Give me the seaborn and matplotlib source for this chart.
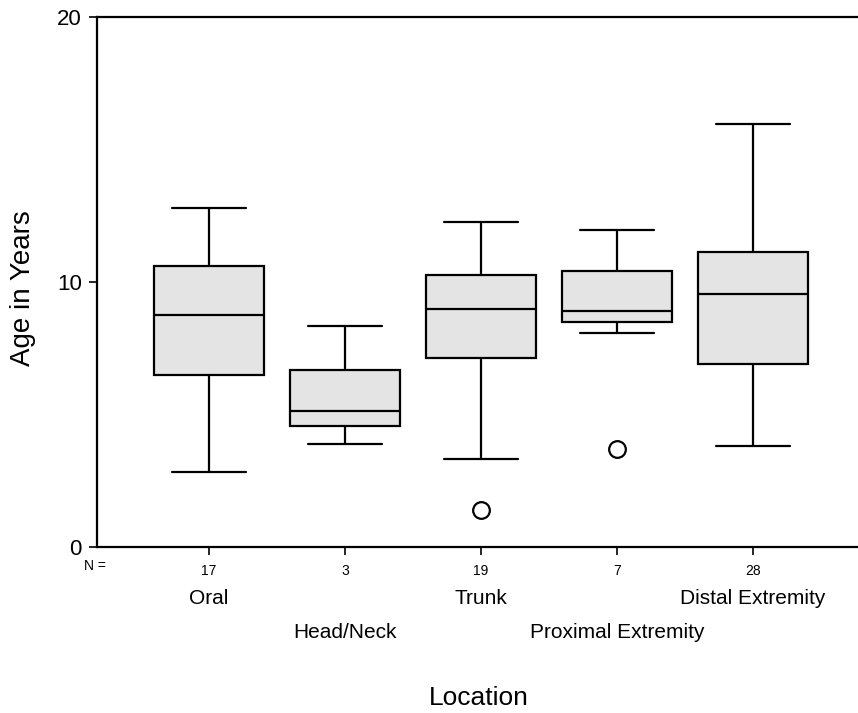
import matplotlib
matplotlib.use("Agg")
import matplotlib.pyplot as plt
import matplotlib.transforms as mtransforms
import seaborn as sns

sns.set_style("white")
plt.rcParams['font.family'] = ['Liberation Sans', 'DejaVu Sans']
plt.rcParams['text.color'] = 'black'
plt.rcParams['xtick.color'] = 'black'
plt.rcParams['ytick.color'] = 'black'

categories = ["Oral", "Head/Neck", "Trunk", "Proximal Extremity", "Distal Extremity"]
counts = [17, 3, 19, 7, 28]
whisker_low = [2.83, 3.87, 3.31, 8.09, 3.80]
q1 = [6.50, 4.55, 7.14, 8.48, 6.91]
median = [8.77, 5.13, 8.99, 8.92, 9.54]
q3 = [10.62, 6.69, 10.25, 10.40, 11.15]
whisker_high = [12.78, 8.33, 12.28, 11.95, 15.96]
outliers = [[], [], [1.38], [3.71], []]
y_ticks = [0, 10, 20]

fig = plt.figure(figsize=(8.58, 7.13), dpi=100)
ax = fig.add_axes([97/858, 1 - 547/713, 1 - 97/858, (547 - 17)/713])

stats = []
for i, c in enumerate(categories):
    stats.append(dict(label=c, whislo=whisker_low[i], q1=q1[i], med=median[i],
                      q3=q3[i], whishi=whisker_high[i], fliers=outliers[i]))

lw = 1.6
ax.bxp(stats, positions=range(len(categories)), widths=0.81, patch_artist=True,
       showfliers=True, capwidths=0.55,
       boxprops=dict(facecolor="#e4e4e4", edgecolor="black", linewidth=lw),
       medianprops=dict(color="black", linewidth=lw),
       whiskerprops=dict(color="black", linewidth=lw),
       capprops=dict(color="black", linewidth=lw),
       flierprops=dict(marker="o", markersize=12, markerfacecolor="white",
                       markeredgecolor="black", markeredgewidth=1.6))

ax.set_xlim(-0.824, (858 - 209) / 136)
ax.set_ylim(0, 20)
ax.set_yticks(y_ticks)
ax.set_yticklabels([str(t) for t in y_ticks], fontsize=16)
ax.set_xticks(range(len(categories)))
ax.set_xticklabels([str(n) for n in counts], fontsize=10)
ax.tick_params(axis="y", direction="out", length=6, width=1.2, pad=5, left=True)
ax.tick_params(axis="x", direction="out", length=6, width=1.2, pad=6, bottom=True)

for s in ["left", "top", "bottom"]:
    ax.spines[s].set_visible(True)
    ax.spines[s].set_color("black")
    ax.spines[s].set_linewidth(1.6)
ax.spines["right"].set_visible(False)

trans = mtransforms.blended_transform_factory(ax.transData, fig.transFigure)
for i, c in enumerate(categories):
    ypix = 598 if i % 2 == 0 else 633
    ax.text(i, 1 - ypix / 713, c, transform=trans, ha="center", va="center", fontsize=15)

fig.text(95/858, 1 - 566/713, "N =", ha="center", va="center", fontsize=10)
fig.text(429/858, 1 - 686/713, "Location", ha="left", va="top", fontsize=19)
fig.text(23/858, 1 - 288/713, "Age in Years", ha="center", va="center", rotation=90, fontsize=20)

fig.savefig("out.png", dpi=100)
